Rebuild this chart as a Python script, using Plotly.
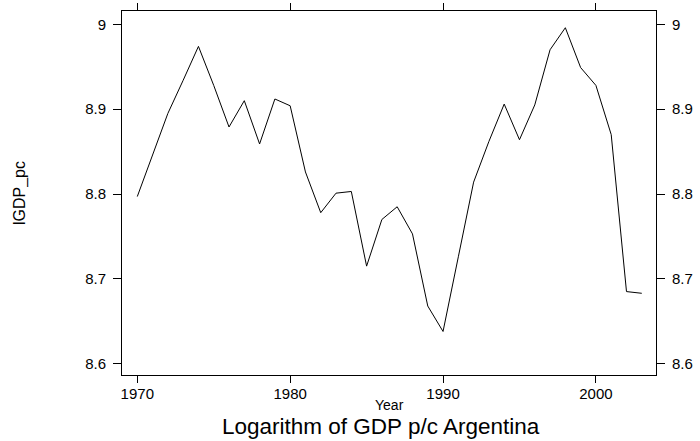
import plotly.graph_objects as go

years = [1970, 1971, 1972, 1973, 1974, 1975, 1976, 1977, 1978, 1979,
         1980, 1981, 1982, 1983, 1984, 1985, 1986, 1987, 1988, 1989,
         1990, 1991, 1992, 1993, 1994, 1995, 1996, 1997, 1998, 1999,
         2000, 2001, 2002, 2003]
lgdp_pc = [8.797, 8.846, 8.895, 8.934, 8.974, 8.928, 8.879, 8.910, 8.859, 8.912,
           8.904, 8.826, 8.778, 8.801, 8.803, 8.715, 8.770, 8.785, 8.753, 8.668,
           8.638, 8.726, 8.814, 8.862, 8.906, 8.864, 8.905, 8.970, 8.996, 8.949,
           8.928, 8.870, 8.685, 8.683]
x_ticks = [1970, 1980, 1990, 2000]
y_ticks = [8.6, 8.7, 8.8, 8.9, 9.0]
y_ticktext = ["8.6", "8.7", "8.8", "8.9", "9"]

FONT = "Arial, Liberation Sans, sans-serif"
yr = [8.5867, 9.0157]

fig = go.Figure()
fig.add_trace(go.Scatter(x=years, y=lgdp_pc, mode="lines",
                         line=dict(color="black", width=1), hoverinfo="skip",
                         showlegend=False))
fig.add_trace(go.Scatter(x=years, y=lgdp_pc, mode="lines", yaxis="y2",
                         line=dict(color="rgba(0,0,0,0)", width=1), hoverinfo="skip",
                         showlegend=False))

fig.update_layout(
    width=700, height=441,
    margin=dict(l=122, r=44, t=11, b=66, autoexpand=False),
    paper_bgcolor="white", plot_bgcolor="white",
    font=dict(family=FONT, color="black"),
    xaxis=dict(range=[1969.0, 2003.93], tickvals=x_ticks, ticks="outside", ticklen=7,
               tickcolor="black", showline=True, linecolor="black", linewidth=1,
               mirror="ticks", showgrid=False, zeroline=False, automargin=False,
               tickfont=dict(size=15, family=FONT), ticklabelstandoff=-2),
    yaxis=dict(range=yr, tickvals=y_ticks, ticktext=y_ticktext, ticks="outside", ticklen=8,
               tickcolor="black", showline=True, linecolor="black", linewidth=1,
               mirror="ticks", showgrid=False, zeroline=False, automargin=False,
               tickfont=dict(size=15, family=FONT), ticklabelstandoff=4),
    yaxis2=dict(range=yr, tickvals=y_ticks, ticktext=y_ticktext, ticks="outside", ticklen=8,
                tickcolor="black", overlaying="y", side="right", showline=False,
                showgrid=False, zeroline=False, automargin=False,
                tickfont=dict(size=15, family=FONT), ticklabelstandoff=4),
    annotations=[
        dict(text="lGDP_pc", textangle=-90, xref="paper", yref="paper",
             x=(20 - 122) / 534, y=0.5, showarrow=False, xanchor="center", yanchor="middle",
             font=dict(size=16, family=FONT)),
        dict(text="Year", xref="paper", yref="paper", x=0.5, y=-(405 - 375) / 364,
             showarrow=False, xanchor="center", yanchor="middle",
             font=dict(size=14, family=FONT)),
        dict(text="Logarithm of GDP p/c Argentina", xref="paper", yref="paper",
             x=(380.5 - 122) / 534, y=-(426 - 375) / 364,
             showarrow=False, xanchor="center", yanchor="middle",
             font=dict(size=22.5, family=FONT)),
    ],
)

fig.write_html("out.html", config={"displayModeBar": False},
               post_script="document.body.style.margin='0';document.body.style.overflow='hidden';")
